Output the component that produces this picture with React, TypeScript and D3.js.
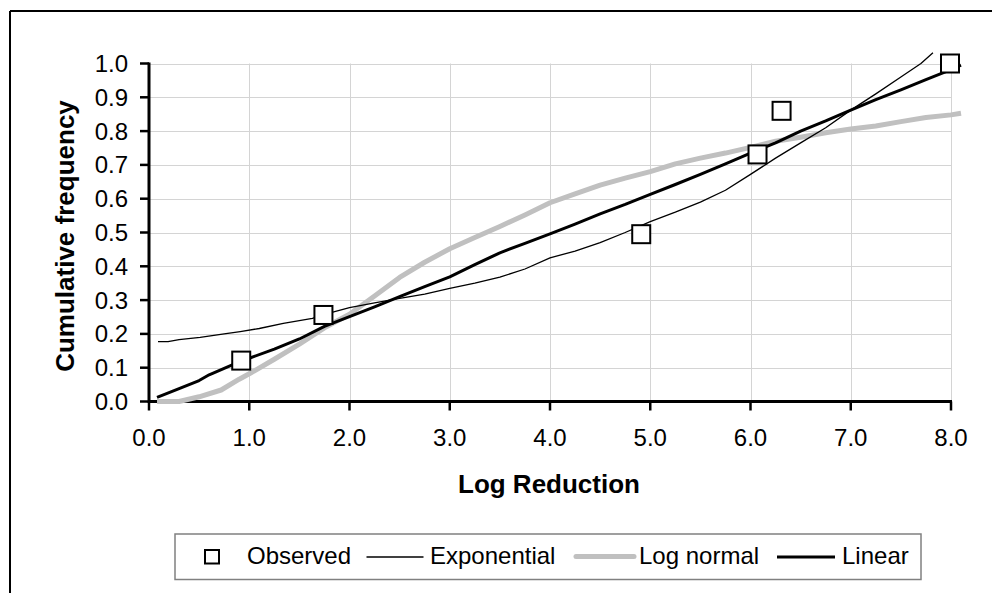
import React from "react";
import * as d3 from "d3";

const xTicks = [0, 1, 2, 3, 4, 5, 6, 7, 8];
const yTicks = [0, 0.1, 0.2, 0.3, 0.4, 0.5, 0.6, 0.7, 0.8, 0.9, 1.0];

const observedX = [0.92, 1.74, 4.91, 6.07, 6.31, 7.99];
const observedY = [0.121, 0.256, 0.495, 0.731, 0.86, 1.0];

const expX = [0.09, 0.19, 0.3, 0.51, 0.75, 0.91, 1.1, 1.34, 1.63, 1.75, 2.0, 2.25, 2.5, 2.75, 3.0, 3.25, 3.5, 3.75, 4.0, 4.25, 4.5, 4.75, 5.0, 5.25, 5.5, 5.75, 6.0, 6.25, 6.5, 6.75, 7.0, 7.25, 7.5, 7.7, 7.82];
const expY = [0.177, 0.177, 0.183, 0.19, 0.2, 0.207, 0.216, 0.231, 0.246, 0.258, 0.278, 0.292, 0.305, 0.318, 0.335, 0.35, 0.368, 0.392, 0.425, 0.445, 0.47, 0.5, 0.532, 0.56, 0.59, 0.625, 0.672, 0.72, 0.765, 0.81, 0.862, 0.91, 0.96, 1.0, 1.032];

const lognX = [0.08, 0.3, 0.5, 0.72, 0.9, 1.0, 1.25, 1.5, 1.75, 2.0, 2.25, 2.5, 2.75, 3.0, 3.25, 3.5, 3.75, 4.0, 4.25, 4.5, 4.75, 5.0, 5.25, 5.5, 5.75, 6.0, 6.25, 6.5, 6.75, 7.0, 7.25, 7.5, 7.75, 8.0, 8.1];
const lognY = [0.0, 0.0, 0.014, 0.034, 0.066, 0.082, 0.125, 0.17, 0.218, 0.258, 0.312, 0.367, 0.412, 0.452, 0.485, 0.518, 0.552, 0.588, 0.614, 0.64, 0.661, 0.68, 0.703, 0.72, 0.735, 0.752, 0.77, 0.782, 0.795, 0.806, 0.815, 0.828, 0.84, 0.848, 0.853];

const linX = [0.08, 0.25, 0.5, 0.6, 0.75, 0.9, 1.0, 1.25, 1.5, 1.75, 2.0, 2.25, 2.5, 2.75, 3.0, 3.25, 3.5, 3.75, 4.0, 4.25, 4.5, 4.75, 5.0, 5.25, 5.5, 5.75, 6.0, 6.25, 6.5, 6.75, 7.0, 7.25, 7.5, 7.75, 8.0, 8.1];
const linY = [0.012, 0.032, 0.062, 0.079, 0.098, 0.117, 0.128, 0.155, 0.185, 0.222, 0.251, 0.28, 0.31, 0.34, 0.369, 0.405, 0.44, 0.468, 0.496, 0.525, 0.555, 0.583, 0.613, 0.642, 0.672, 0.703, 0.735, 0.765, 0.8, 0.83, 0.862, 0.893, 0.922, 0.952, 0.982, 0.995];

const legendLabels = ["Observed", "Exponential", "Log normal", "Linear"];

const FONT = "'Liberation Sans', Arial, sans-serif";

export default function App() {
  const x = d3.scaleLinear().domain([0, 8]).range([149, 951]);
  const y = d3.scaleLinear().domain([0, 1]).range([401.5, 63.5]);
  const line = (xs: number[], ys: number[]) =>
    d3.line<number>().x((_, i) => x(xs[i])).y((_, i) => y(ys[i]))(xs.map((v) => v)) || "";

  return (
    <svg width={992} height={593} style={{ position: "absolute", left: 0, top: 0, background: "#fff" }} fontFamily={FONT}>
      <rect x={0} y={0} width={992} height={593} fill="#fff" />
      {/* outer frame */}
      <line x1={10} y1={11} x2={992} y2={11} stroke="#000" strokeWidth={2} />
      <line x1={10} y1={11} x2={10} y2={593} stroke="#000" strokeWidth={2} />

      {/* grid */}
      {xTicks.slice(1).map((t) => (
        <line key={"gx" + t} x1={Math.round(x(t)) + 0.5} x2={Math.round(x(t)) + 0.5} y1={y(1)} y2={y(0)} stroke="#d4d4d4" strokeWidth={1} />
      ))}
      {yTicks.slice(1).map((t) => (
        <line key={"gy" + t} x1={x(0)} x2={x(8)} y1={Math.round(y(t)) + 0.5} y2={Math.round(y(t)) + 0.5} stroke="#d4d4d4" strokeWidth={1} />
      ))}

      {/* axes */}
      <line x1={x(0)} x2={x(0)} y1={y(1) - 1} y2={y(0) + 1.5} stroke="#000" strokeWidth={3} />
      <line x1={x(0) - 1} x2={x(8) + 1} y1={y(0)} y2={y(0)} stroke="#000" strokeWidth={3} />
      {yTicks.map((t) => (
        <g key={"yt" + t}>
          <line x1={x(0) - 9} x2={x(0)} y1={y(t)} y2={y(t)} stroke="#000" strokeWidth={2.5} />
          <text x={128} y={y(t) + 8.5} textAnchor="end" fontSize={24} fill="#000">
            {t.toFixed(1)}
          </text>
        </g>
      ))}
      {xTicks.map((t) => (
        <g key={"xt" + t}>
          <line x1={x(t)} x2={x(t)} y1={y(0)} y2={y(0) + 9} stroke="#000" strokeWidth={2.5} />
          <text x={x(t)} y={446} textAnchor="middle" fontSize={24} fill="#000">
            {t.toFixed(1)}
          </text>
        </g>
      ))}

      {/* axis titles */}
      <text x={549} y={493} textAnchor="middle" fontSize={26} fontWeight="bold" fill="#000">
        Log Reduction
      </text>
      <text transform={`translate(74,236) rotate(-90)`} textAnchor="middle" fontSize={26} fontWeight="bold" fill="#000">
        Cumulative frequency
      </text>

      {/* series */}
      <path d={line(lognX, lognY)} fill="none" stroke="#c0c0c0" strokeWidth={5} strokeLinejoin="round" />
      <path d={line(expX, expY)} fill="none" stroke="#000" strokeWidth={1.3} strokeLinejoin="round" />
      <path d={line(linX, linY)} fill="none" stroke="#000" strokeWidth={3} strokeLinejoin="round" />
      {observedX.map((v, i) => (
        <rect key={"o" + i} x={x(v) - 9} y={y(observedY[i]) - 9} width={18} height={18} fill="#fff" stroke="#000" strokeWidth={2} />
      ))}

      {/* legend */}
      <rect x={175} y={534} width={746} height={45.5} fill="#fff" stroke="#808080" strokeWidth={1.5} />
      <rect x={205} y={550} width={14} height={13.5} fill="#fff" stroke="#000" strokeWidth={2} />
      <text x={247} y={564} fontSize={24} fill="#000">{legendLabels[0]}</text>
      <line x1={366.5} x2={423.5} y1={557} y2={557} stroke="#000" strokeWidth={1.3} />
      <text x={430} y={564} fontSize={24} fill="#000">{legendLabels[1]}</text>
      <line x1={576} x2={634} y1={556.5} y2={556.5} stroke="#c0c0c0" strokeWidth={5} strokeLinecap="round" />
      <text x={639} y={564} fontSize={24} fill="#000">{legendLabels[2]}</text>
      <line x1={777} x2={835} y1={557} y2={557} stroke="#000" strokeWidth={3} />
      <text x={842} y={564} fontSize={24} fill="#000">{legendLabels[3]}</text>
    </svg>
  );
}
